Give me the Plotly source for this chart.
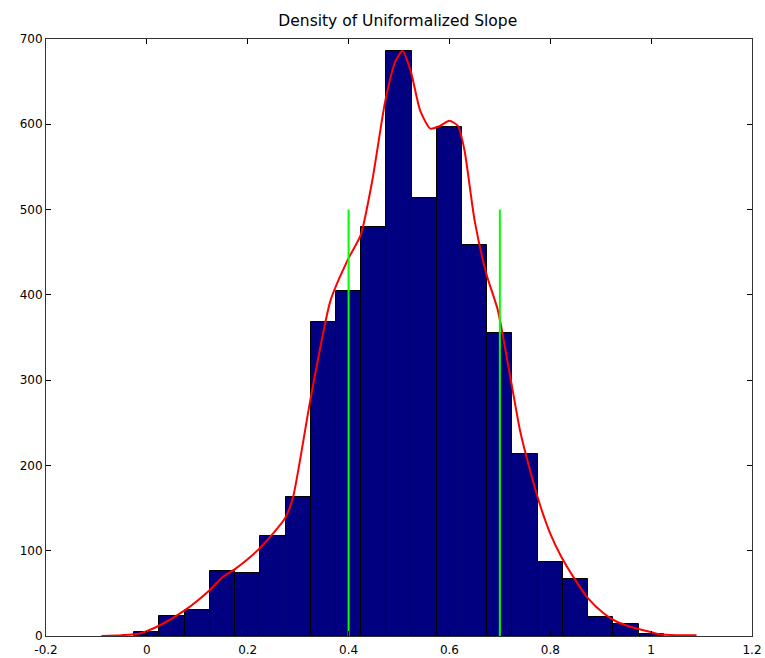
import plotly.graph_objects as go

bin_centers = [0.0, 0.05, 0.1, 0.15, 0.2, 0.25, 0.3, 0.35, 0.4, 0.45, 0.5,
               0.55, 0.6, 0.65, 0.7, 0.75, 0.8, 0.85, 0.9, 0.95, 1.0]
counts = [5, 24, 30, 76, 74, 117, 163, 368, 405, 479, 686,
          513, 597, 459, 355, 213, 87, 67, 22, 14, 2]

curve_x = [-0.09, -0.05, -0.014, 0.024, 0.075, 0.125, 0.15, 0.176, 0.198, 0.224,
           0.25, 0.274, 0.29, 0.324, 0.364, 0.4, 0.424, 0.447, 0.473, 0.493,
           0.507, 0.523, 0.542, 0.562, 0.581, 0.6, 0.617, 0.63, 0.65, 0.674,
           0.696, 0.72, 0.74, 0.76, 0.78, 0.8, 0.82, 0.846, 0.875, 0.905,
           0.931, 0.964, 0.997, 1.017, 1.05, 1.09]
curve_y = [0, 1, 3, 12, 30, 54, 69, 79, 89, 103,
           120, 138, 163, 276, 393, 443, 470, 534, 628, 674,
           686, 663, 616, 595, 598, 604, 598, 569, 487, 423,
           382, 306, 241, 194, 153, 120, 95, 69, 44, 27,
           17, 10, 5, 2, 1, 1]

green_x = [0.4, 0.7]
green_top = 500

fig = go.Figure()
fig.add_trace(go.Bar(x=bin_centers, y=counts, width=0.05,
                     marker=dict(color="#000080", line=dict(color="black", width=1)),
                     showlegend=False))
fig.add_trace(go.Scatter(x=curve_x, y=curve_y, mode="lines",
                         line=dict(color="#ff0000", width=2, shape="spline", smoothing=0.6),
                         showlegend=False))
for gx in green_x:
    fig.add_trace(go.Scatter(x=[gx, gx], y=[0, green_top], mode="lines",
                             line=dict(color="#00ff00", width=2), showlegend=False))

tick_font = dict(family="DejaVu Sans, Liberation Sans, Arial", size=12, color="#000000")
axis_common = dict(showgrid=False, zeroline=False, showline=True, linecolor="#333333",
                   linewidth=1, mirror="ticks", ticks="inside", ticklen=5,
                   tickcolor="#000000", tickfont=tick_font, automargin=False)
fig.update_xaxes(range=[-0.2, 1.2], tickvals=[-0.2, 0, 0.2, 0.4, 0.6, 0.8, 1, 1.2],
                 ticktext=["-0.2", "0", "0.2", "0.4", "0.6", "0.8", "1", "1.2"],
                 ticklabelstandoff=3, **axis_common)
fig.update_yaxes(range=[0, 700], tickvals=[0, 100, 200, 300, 400, 500, 600, 700],
                 ticklabelstandoff=0, **axis_common)

fig.update_layout(
    width=765, height=658,
    margin=dict(l=46, r=13, t=39, b=22),
    paper_bgcolor="white", plot_bgcolor="white",
    bargap=0,
    title=dict(text="Density of Uniformalized Slope", x=0.52, xanchor="center",
               yref="container", y=0.969, yanchor="middle",
               font=dict(family="DejaVu Sans, Liberation Sans, Arial", size=15.5, color="#000000")),
)
fig.write_html("out.html")
